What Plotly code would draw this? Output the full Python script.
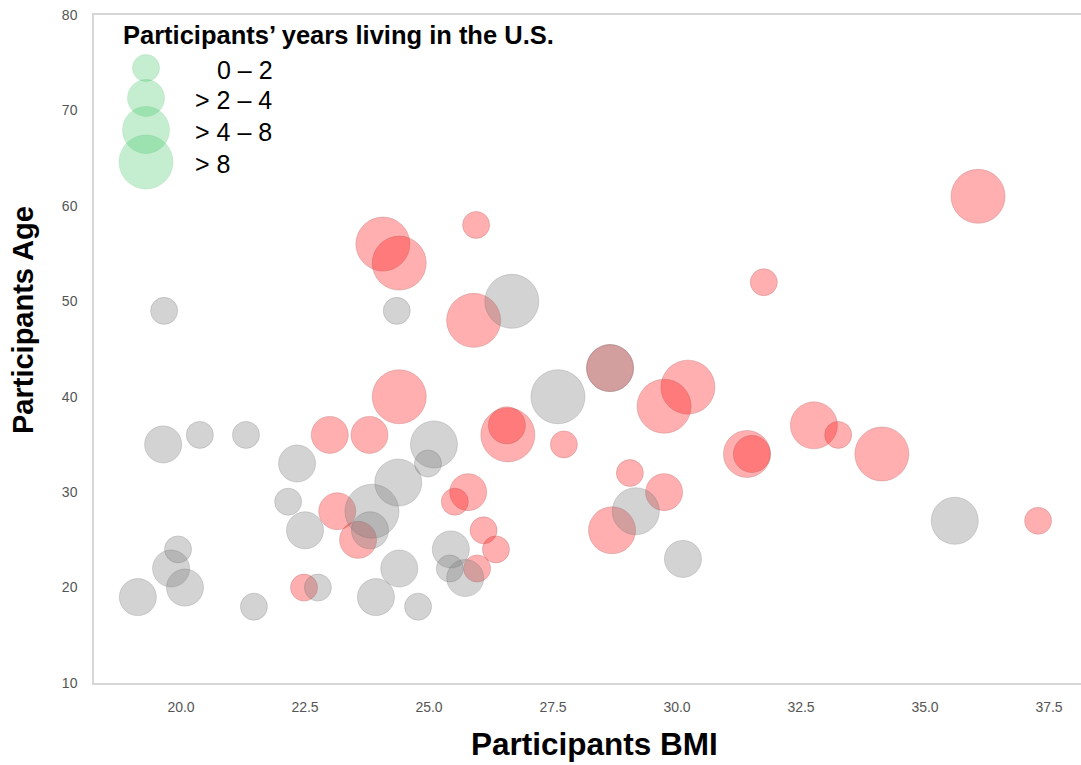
import plotly.graph_objects as go

# ---------------- data ----------------
size_labels = ["0 – 2", "> 2 – 4", "> 4 – 8", "> 8"]

gray_bmi = [19.66, 19.64, 20.38, 21.31, 22.34, 22.16, 22.5, 19.94, 19.8, 20.08,
            19.13, 21.47, 22.76, 23.93, 24.78, 24.4, 23.85, 23.81, 24.38, 25.1,
            24.98, 24.35, 26.67, 27.6, 28.65, 29.17, 30.12, 35.6, 25.44, 25.42, 25.73]
gray_age = [49, 35, 36, 36, 33, 29, 26, 24, 22, 20,
            19, 18, 20, 19, 18, 22, 28, 26, 31, 35,
            33, 49, 50, 40, 43, 28, 23, 27, 24, 22, 21]
gray_years_cls = [0, 1, 0, 0, 1, 0, 1, 0, 1, 1,
                  1, 0, 0, 1, 0, 1, 3, 1, 2, 2,
                  0, 0, 3, 3, 2, 2, 1, 2, 1, 0, 1]

red_bmi = [23.0, 23.8, 23.15, 23.57, 22.48, 24.4, 24.07, 24.4, 25.95, 25.9,
           25.79, 25.52, 26.1, 26.35, 25.97, 26.59, 26.57, 27.72, 29.05, 29.74,
           28.69, 28.65, 30.22, 29.74, 31.41, 31.51, 31.75, 32.76, 33.25, 34.13,
           36.07, 37.28]
red_age = [36, 36, 28, 25, 20, 40, 56, 54, 58, 48,
           30, 29, 26, 24, 22, 36, 37, 35, 32, 30,
           26, 43, 41, 39, 34, 34, 52, 37, 36, 34,
           61, 27]
red_years_cls = [1, 1, 1, 1, 0, 3, 3, 3, 0, 3,
                 1, 0, 0, 0, 0, 3, 1, 0, 0, 1,
                 2, 2, 3, 3, 2, 1, 0, 2, 0, 3,
                 3, 0]

x_ticks = [20.0, 22.5, 25.0, 27.5, 30.0, 32.5, 35.0, 37.5]
y_ticks = [10, 20, 30, 40, 50, 60, 70, 80]

# ---------------- style ----------------
SIZE_PX = [27, 37, 47, 54]
W, H = 1081, 765
ML, MR, MT, MB = 94, 0, 15, 82
PW, PH = W - ML - MR, H - MT - MB
FONT = "Liberation Sans, Arial, sans-serif"

fig = go.Figure()

fig.add_trace(go.Scatter(
    x=red_bmi, y=red_age, mode="markers",
    marker=dict(size=[SIZE_PX[c] for c in red_years_cls],
                color="rgba(255,30,30,0.50)",
                line=dict(color="rgba(160,50,50,0.35)", width=1)),
    showlegend=False, hoverinfo="x+y"))

fig.add_trace(go.Scatter(
    x=gray_bmi, y=gray_age, mode="markers",
    marker=dict(size=[SIZE_PX[c] for c in gray_years_cls],
                color="rgba(125,125,125,0.48)",
                line=dict(color="rgba(100,100,100,0.35)", width=1)),
    showlegend=False, hoverinfo="x+y"))

# ---- custom size legend on a pixel-space overlay axis ----
leg_x = 52
leg_y = [53, 83, 115, 147]
fig.add_trace(go.Scatter(
    x=[leg_x] * len(size_labels), y=leg_y, mode="markers",
    marker=dict(size=SIZE_PX, color="rgba(60,200,100,0.42)",
                line=dict(color="rgba(70,180,100,0.25)", width=1)),
    xaxis="x2", yaxis="y2", showlegend=False, hoverinfo="skip"))

annotations = []
annotations.append(dict(x=27, y=20, xref="x2", yref="y2", xanchor="left", yanchor="middle",
                        text="<b>Participants’ years living in the U.S.</b>", showarrow=False,
                        font=dict(family=FONT, size=25.5, color="black")))
for i, lab in enumerate(size_labels):
    annotations.append(dict(x=121 if i == 0 else 99, y=leg_y[i] + 2, xref="x2", yref="y2",
                            xanchor="left", yanchor="middle", text=lab, showarrow=False,
                            font=dict(family=FONT, size=25, color="black")))

annotations.append(dict(x=(594 - ML) / PW, y=(MT + PH - 744) / PH, xref="paper", yref="paper",
                        xanchor="center", yanchor="middle", text="<b>Participants BMI</b>",
                        showarrow=False, font=dict(family=FONT, size=31.5, color="black")))
annotations.append(dict(x=(23 - ML) / PW, y=(MT + PH - 320) / PH, xref="paper", yref="paper",
                        xanchor="center", yanchor="middle", text="<b>Participants Age</b>",
                        textangle=-90, showarrow=False,
                        font=dict(family=FONT, size=29, color="black")))

x_lo = 20 - (181 - ML) / 49.6
x_hi = x_lo + PW / 49.6

fig.update_layout(
    width=W, height=H,
    margin=dict(l=ML, r=MR, t=MT, b=MB, pad=0),
    paper_bgcolor="white", plot_bgcolor="white",
    font=dict(family=FONT),
    xaxis=dict(range=[x_lo, x_hi], tickvals=x_ticks, ticktext=[f"{v:.1f}" for v in x_ticks],
               showgrid=False, zeroline=False, showline=True, mirror=True,
               linecolor="#d6d6d6", linewidth=1.5,
               ticks="outside", ticklen=10, tickcolor="rgba(0,0,0,0)",
               tickfont=dict(family=FONT, size=14, color="#555555")),
    yaxis=dict(range=[10, 80], tickvals=y_ticks, showgrid=False, zeroline=False,
               showline=True, linecolor="#d6d6d6", linewidth=1.5,
               ticks="outside", ticklen=12, tickcolor="rgba(0,0,0,0)",
               tickfont=dict(family=FONT, size=14, color="#555555")),
    xaxis2=dict(overlaying="x", anchor="y2", range=[0, PW], visible=False, fixedrange=True),
    yaxis2=dict(overlaying="y", anchor="x2", range=[PH, 0], visible=False, fixedrange=True),
    annotations=annotations,
    showlegend=False,
)

fig.write_html("out.html", config={"displayModeBar": False},
               post_script="document.body.style.margin='0px';")
